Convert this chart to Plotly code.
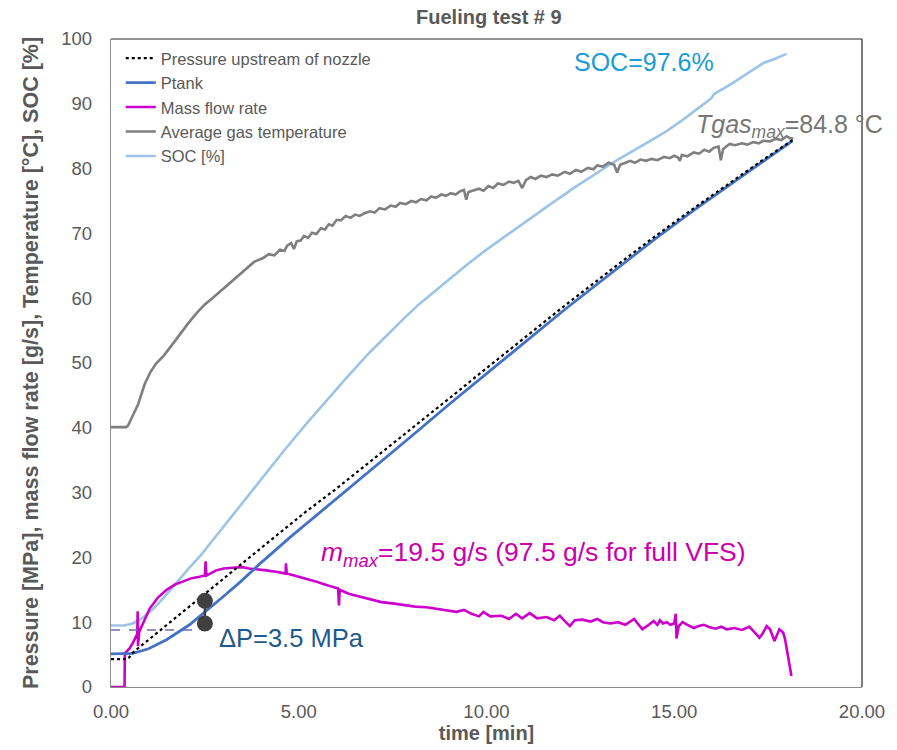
import plotly.graph_objects as go

# ---- measured series (time in minutes) ----
p_up_t = [0.00, 0.45, 0.58, 1.00, 1.48, 2.09, 2.54, 2.97, 3.50, 4.39, 5.20, 6.00, 7.00,
          8.00, 9.00, 10.00, 11.00, 12.16, 13.50, 14.50, 15.60, 16.50, 17.30, 18.15]
p_up_v = [4.3, 4.3, 5.3, 7.3, 9.6, 12.5, 14.6, 16.6, 19.1, 23.3, 27.1, 30.6, 35.2,
          39.8, 44.5, 49.2, 53.8, 59.2, 65.2, 69.6, 74.2, 77.9, 81.1, 84.4]

ptank_t = [0.00, 0.50, 0.58, 1.00, 1.48, 2.09, 2.49, 3.00, 3.46, 4.00, 4.79, 6.00, 7.00,
           8.00, 9.00, 10.00, 11.00, 12.16, 13.50, 14.50, 15.60, 16.50, 17.30, 18.15]
ptank_v = [5.1, 5.1, 5.2, 5.9, 7.3, 9.6, 11.5, 14.0, 16.3, 19.2, 23.2, 29.0, 33.9,
           38.7, 43.6, 48.4, 53.1, 58.6, 64.7, 69.2, 73.9, 77.6, 80.9, 84.3]

mflow_t = [0.00, 0.36, 0.37, 0.50, 0.60, 0.70, 0.71, 0.72, 0.75, 0.90, 1.03, 1.25, 1.48,
           1.70, 1.91, 2.15, 2.36, 2.50, 2.52, 2.54, 2.80, 3.00, 3.24, 3.50, 3.68, 3.90,
           4.13, 4.40, 4.65, 4.66, 4.68, 5.00, 5.20, 5.45, 5.65, 5.88, 6.05, 6.07, 6.09,
           6.33, 6.60, 6.90, 7.20, 7.50, 7.80, 8.10, 8.40, 8.70, 8.98, 9.20, 9.40, 9.60,
           9.80, 9.92, 10.10, 10.40, 10.60, 10.78, 10.95, 11.15, 11.35, 11.60, 11.80, 11.95,
           12.10, 12.22, 12.35, 12.55, 12.77, 12.95, 13.10, 13.30, 13.50, 13.70, 13.93, 14.05,
           14.15, 14.30, 14.45, 14.55, 14.62, 14.70, 14.80, 14.90, 15.00, 15.04, 15.06, 15.12,
           15.22, 15.35, 15.52, 15.65, 15.79, 15.95, 16.10, 16.25, 16.40, 16.60, 16.80, 17.00,
           17.12, 17.27, 17.35, 17.46, 17.55, 17.67, 17.80, 17.90, 17.95, 18.07, 18.12]
mflow_v = [0.0, 0.0, 5.2, 6.0, 7.0, 8.2, 11.7, 6.3, 8.5, 10.5, 12.1, 13.8, 15.0,
           15.8, 16.3, 16.8, 17.0, 17.2, 19.4, 17.2, 18.0, 18.3, 18.4, 18.5, 18.3, 18.2,
           18.0, 17.8, 17.5, 19.1, 17.5, 17.0, 16.7, 16.3, 15.9, 15.5, 15.2, 12.6, 15.0,
           14.4, 14.0, 13.6, 13.1, 12.9, 12.6, 12.4, 12.3, 12.0, 11.8, 11.6, 11.9, 11.3,
           10.9, 11.6, 10.9, 11.0, 10.5, 11.3, 10.6, 11.4, 10.6, 10.8, 10.3, 11.0,
           10.1, 9.4, 10.3, 10.4, 10.1, 10.5, 10.0, 9.8, 10.0, 9.6, 10.5, 9.6,
           8.9, 9.5, 10.2, 9.6, 10.3, 9.8, 10.0, 9.6, 9.8, 11.3, 7.5, 9.4,
           10.0, 9.6, 9.1, 9.4, 9.6, 9.2, 9.0, 9.3, 8.9, 9.1, 8.8, 9.3,
           8.6, 7.6, 8.2, 9.4, 8.9, 7.1, 8.9, 8.4, 7.4, 3.5, 1.7]

tgas_t = [0.00, 0.40, 0.45, 0.55, 0.72, 0.90, 1.05, 1.20, 1.40, 1.60, 1.80, 2.04, 2.25,
          2.49, 2.70, 2.94, 3.15, 3.36, 3.60, 3.81, 4.05, 4.20, 4.35, 4.50, 4.62, 4.69,
          4.80, 4.87, 4.95, 5.05, 5.14, 5.25, 5.35, 5.47, 5.59, 5.70, 5.80, 5.90, 6.01,
          6.12, 6.25, 6.38, 6.50, 6.62, 6.75, 6.90, 7.02, 7.15, 7.30, 7.45, 7.58, 7.70,
          7.85, 8.00, 8.12, 8.25, 8.40, 8.53, 8.65, 8.80, 8.92, 9.05, 9.18, 9.30, 9.40,
          9.46, 9.52, 9.65, 9.80, 9.92, 10.05, 10.18, 10.30, 10.45, 10.60, 10.72, 10.85,
          10.95, 11.05, 11.18, 11.30, 11.45, 11.60, 11.75, 11.90, 12.08, 12.22, 12.38, 12.52,
          12.70, 12.85, 12.95, 13.10, 13.25, 13.40, 13.48, 13.56, 13.70, 13.83, 13.95, 14.10,
          14.25, 14.40, 14.55, 14.73, 14.88, 15.00, 15.10, 15.15, 15.20, 15.35, 15.52, 15.66,
          15.80, 15.93, 16.05, 16.18, 16.24, 16.30, 16.40, 16.48, 16.62, 16.80, 16.95, 17.10,
          17.25, 17.37, 17.55, 17.70, 17.85, 17.99, 18.08, 18.17]
tgas_v = [40.1, 40.1, 40.3, 41.5, 43.6, 46.8, 48.6, 49.9, 51.1, 52.6, 54.2, 56.0, 57.5,
          59.0, 60.0, 61.2, 62.3, 63.4, 64.6, 65.6, 66.2, 66.8, 66.6, 67.5, 67.3, 68.1,
          68.5, 67.6, 68.8, 68.9, 69.6, 69.3, 70.1, 69.9, 70.8, 70.6, 71.4, 71.2, 72.1,
          72.0, 72.7, 72.4, 72.9, 72.7, 73.1, 73.4, 73.2, 73.9, 73.7, 74.3, 74.1, 74.7,
          74.5, 75.0, 74.8, 75.3, 75.1, 75.7, 75.5, 76.0, 75.8, 76.2, 76.0, 76.5, 76.7,
          75.2, 76.4, 76.6, 76.9, 76.6, 77.3, 77.0, 77.7, 77.5, 78.0, 77.8, 78.1,
          77.0, 78.2, 78.7, 78.4, 78.9, 78.7, 79.1, 78.9, 79.5, 79.2, 79.8, 79.5,
          80.1, 79.9, 80.5, 80.3, 80.9, 80.6, 79.4, 80.6, 80.9, 81.2, 80.9, 81.4,
          81.2, 81.5, 81.3, 81.8, 81.6, 82.0, 81.7, 81.2, 82.1, 81.9, 82.5, 82.3,
          82.9, 82.6, 83.2, 83.4, 81.3, 83.0, 83.5, 83.8, 83.6, 83.9, 83.7, 84.1,
          83.9, 84.3, 84.2, 84.6, 84.4, 85.0, 84.7, 84.6]

soc_t = [0.00, 0.35, 0.58, 0.80, 1.00, 1.20, 1.48, 1.80, 2.10, 2.36, 2.55, 2.81, 3.20,
         3.63, 4.10, 4.61, 5.20, 5.80, 6.30, 6.90, 7.40, 7.79, 8.19, 8.80, 9.42, 10.00,
         10.60, 11.18, 11.80, 12.40, 12.95, 13.50, 14.10, 14.72, 15.20, 15.52, 15.98, 16.06,
         16.50, 17.00, 17.38, 17.70, 17.99]
soc_v = [9.5, 9.5, 9.8, 10.5, 11.4, 12.5, 14.3, 16.5, 18.5, 20.1, 21.5, 23.3, 26.2,
         29.3, 32.8, 36.5, 40.6, 44.6, 47.9, 51.7, 54.6, 56.8, 59.0, 62.0, 64.9, 67.5,
         70.0, 72.4, 74.9, 77.3, 79.4, 81.4, 83.4, 85.5, 87.4, 88.8, 90.8, 91.5,
         93.0, 94.9, 96.3, 97.0, 97.7]

# pressure-difference marker at t = 2.5 min
dp_t = [2.5, 2.5]
dp_v = [13.3, 9.8]
dp_level_t = [0.0, 2.5]
dp_level_v = [8.8, 8.8]

x_ticks = [0, 5, 10, 15, 20]
y_ticks = list(range(0, 101, 10))

FONT = "Liberation Sans, Arial, sans-serif"
GREY_TXT = "#595959"

fig = go.Figure()

fig.add_trace(go.Scatter(x=soc_t, y=soc_v, mode="lines", name="SOC [%]",
                         line=dict(color="#9DC3E6", width=2.6), legendrank=5))
fig.add_trace(go.Scatter(x=tgas_t, y=tgas_v, mode="lines", name="Average gas temperature",
                         line=dict(color="#7F7F7F", width=2.6), legendrank=4))
fig.add_trace(go.Scatter(x=mflow_t, y=mflow_v, mode="lines", name="Mass flow rate",
                         line=dict(color="#CC00CC", width=2.6), legendrank=3))
fig.add_trace(go.Scatter(x=ptank_t, y=ptank_v, mode="lines", name="Ptank",
                         line=dict(color="#4472C4", width=2.8), legendrank=2))
fig.add_trace(go.Scatter(x=p_up_t, y=p_up_v, mode="lines", name="Pressure upstream of nozzle",
                         line=dict(color="#000000", width=2.2, dash="dot"), legendrank=1))

fig.add_trace(go.Scatter(x=dp_level_t, y=dp_level_v, mode="lines", showlegend=False,
                         line=dict(color="#6F6FAF", width=1.3, dash="dash")))
fig.add_trace(go.Scatter(x=dp_t, y=dp_v, mode="lines+markers", showlegend=False,
                         line=dict(color="#404040", width=2.5),
                         marker=dict(color="#404040", size=16)))

annotations = [
    dict(x=12.29, y=96.5, text="SOC=97.6%", font=dict(size=25, color="#1A9BD7")),
    dict(x=15.52, y=86.6, text="<i>Tgas<sub>max</sub></i>=84.8 °C",
         font=dict(size=25, color="#767676")),
    dict(x=5.54, y=20.6, text="<i>m<sub>max</sub></i>=19.5 g/s (97.5 g/s for full VFS)",
         font=dict(size=26.5, color="#CC00AA")),
    dict(x=2.83, y=7.6, text="ΔP=3.5 MPa", font=dict(size=25.5, color="#1F5A8C")),
]
for a in annotations:
    a.update(xref="x", yref="y", showarrow=False, xanchor="left", yanchor="middle")
    a["font"]["family"] = FONT

fig.update_layout(
    width=897, height=750, autosize=False,
    margin=dict(l=111, r=31, t=39, b=59),
    paper_bgcolor="white", plot_bgcolor="white",
    font=dict(family=FONT, color=GREY_TXT),
    title=dict(text="<b>Fueling test # 9</b>", x=0.545, xanchor="center",
               y=0.978, yanchor="middle", font=dict(size=20, color=GREY_TXT)),
    legend=dict(x=0.013, y=0.997, xanchor="left", yanchor="top",
                bgcolor="rgba(0,0,0,0)", font=dict(size=16.5, color=GREY_TXT),
                itemwidth=30),
    annotations=annotations,
    shapes=[
        dict(type="line", xref="paper", yref="paper", x0=0, x1=1, y0=1, y1=1,
             line=dict(color="#262626", width=1.2)),
        dict(type="line", xref="paper", yref="paper", x0=1, x1=1, y0=0, y1=1,
             line=dict(color="#262626", width=1.2)),
    ],
)

fig.update_xaxes(range=[0, 20], tickvals=x_ticks, tickformat=".2f",
                 showgrid=False, zeroline=False, showline=True,
                 linecolor="#8C8C8C", linewidth=1.3, ticks="",
                 ticklabelstandoff=8,
                 tickfont=dict(size=18.5, color=GREY_TXT),
                 title=dict(text="<b>time [min]</b>", standoff=2,
                            font=dict(size=20, color=GREY_TXT)))
fig.update_yaxes(range=[0, 100], tickvals=y_ticks,
                 showgrid=False, zeroline=False, showline=True,
                 linecolor="#8C8C8C", linewidth=1.3, ticks="",
                 ticklabelstandoff=14,
                 tickfont=dict(size=18.5, color=GREY_TXT),
                 title=dict(text="<b>Pressure [MPa], mass flow rate [g/s], Temperature [°C], SOC [%]</b>",
                            standoff=16, font=dict(size=21.5, color=GREY_TXT)))

fig.write_html("out.html")
